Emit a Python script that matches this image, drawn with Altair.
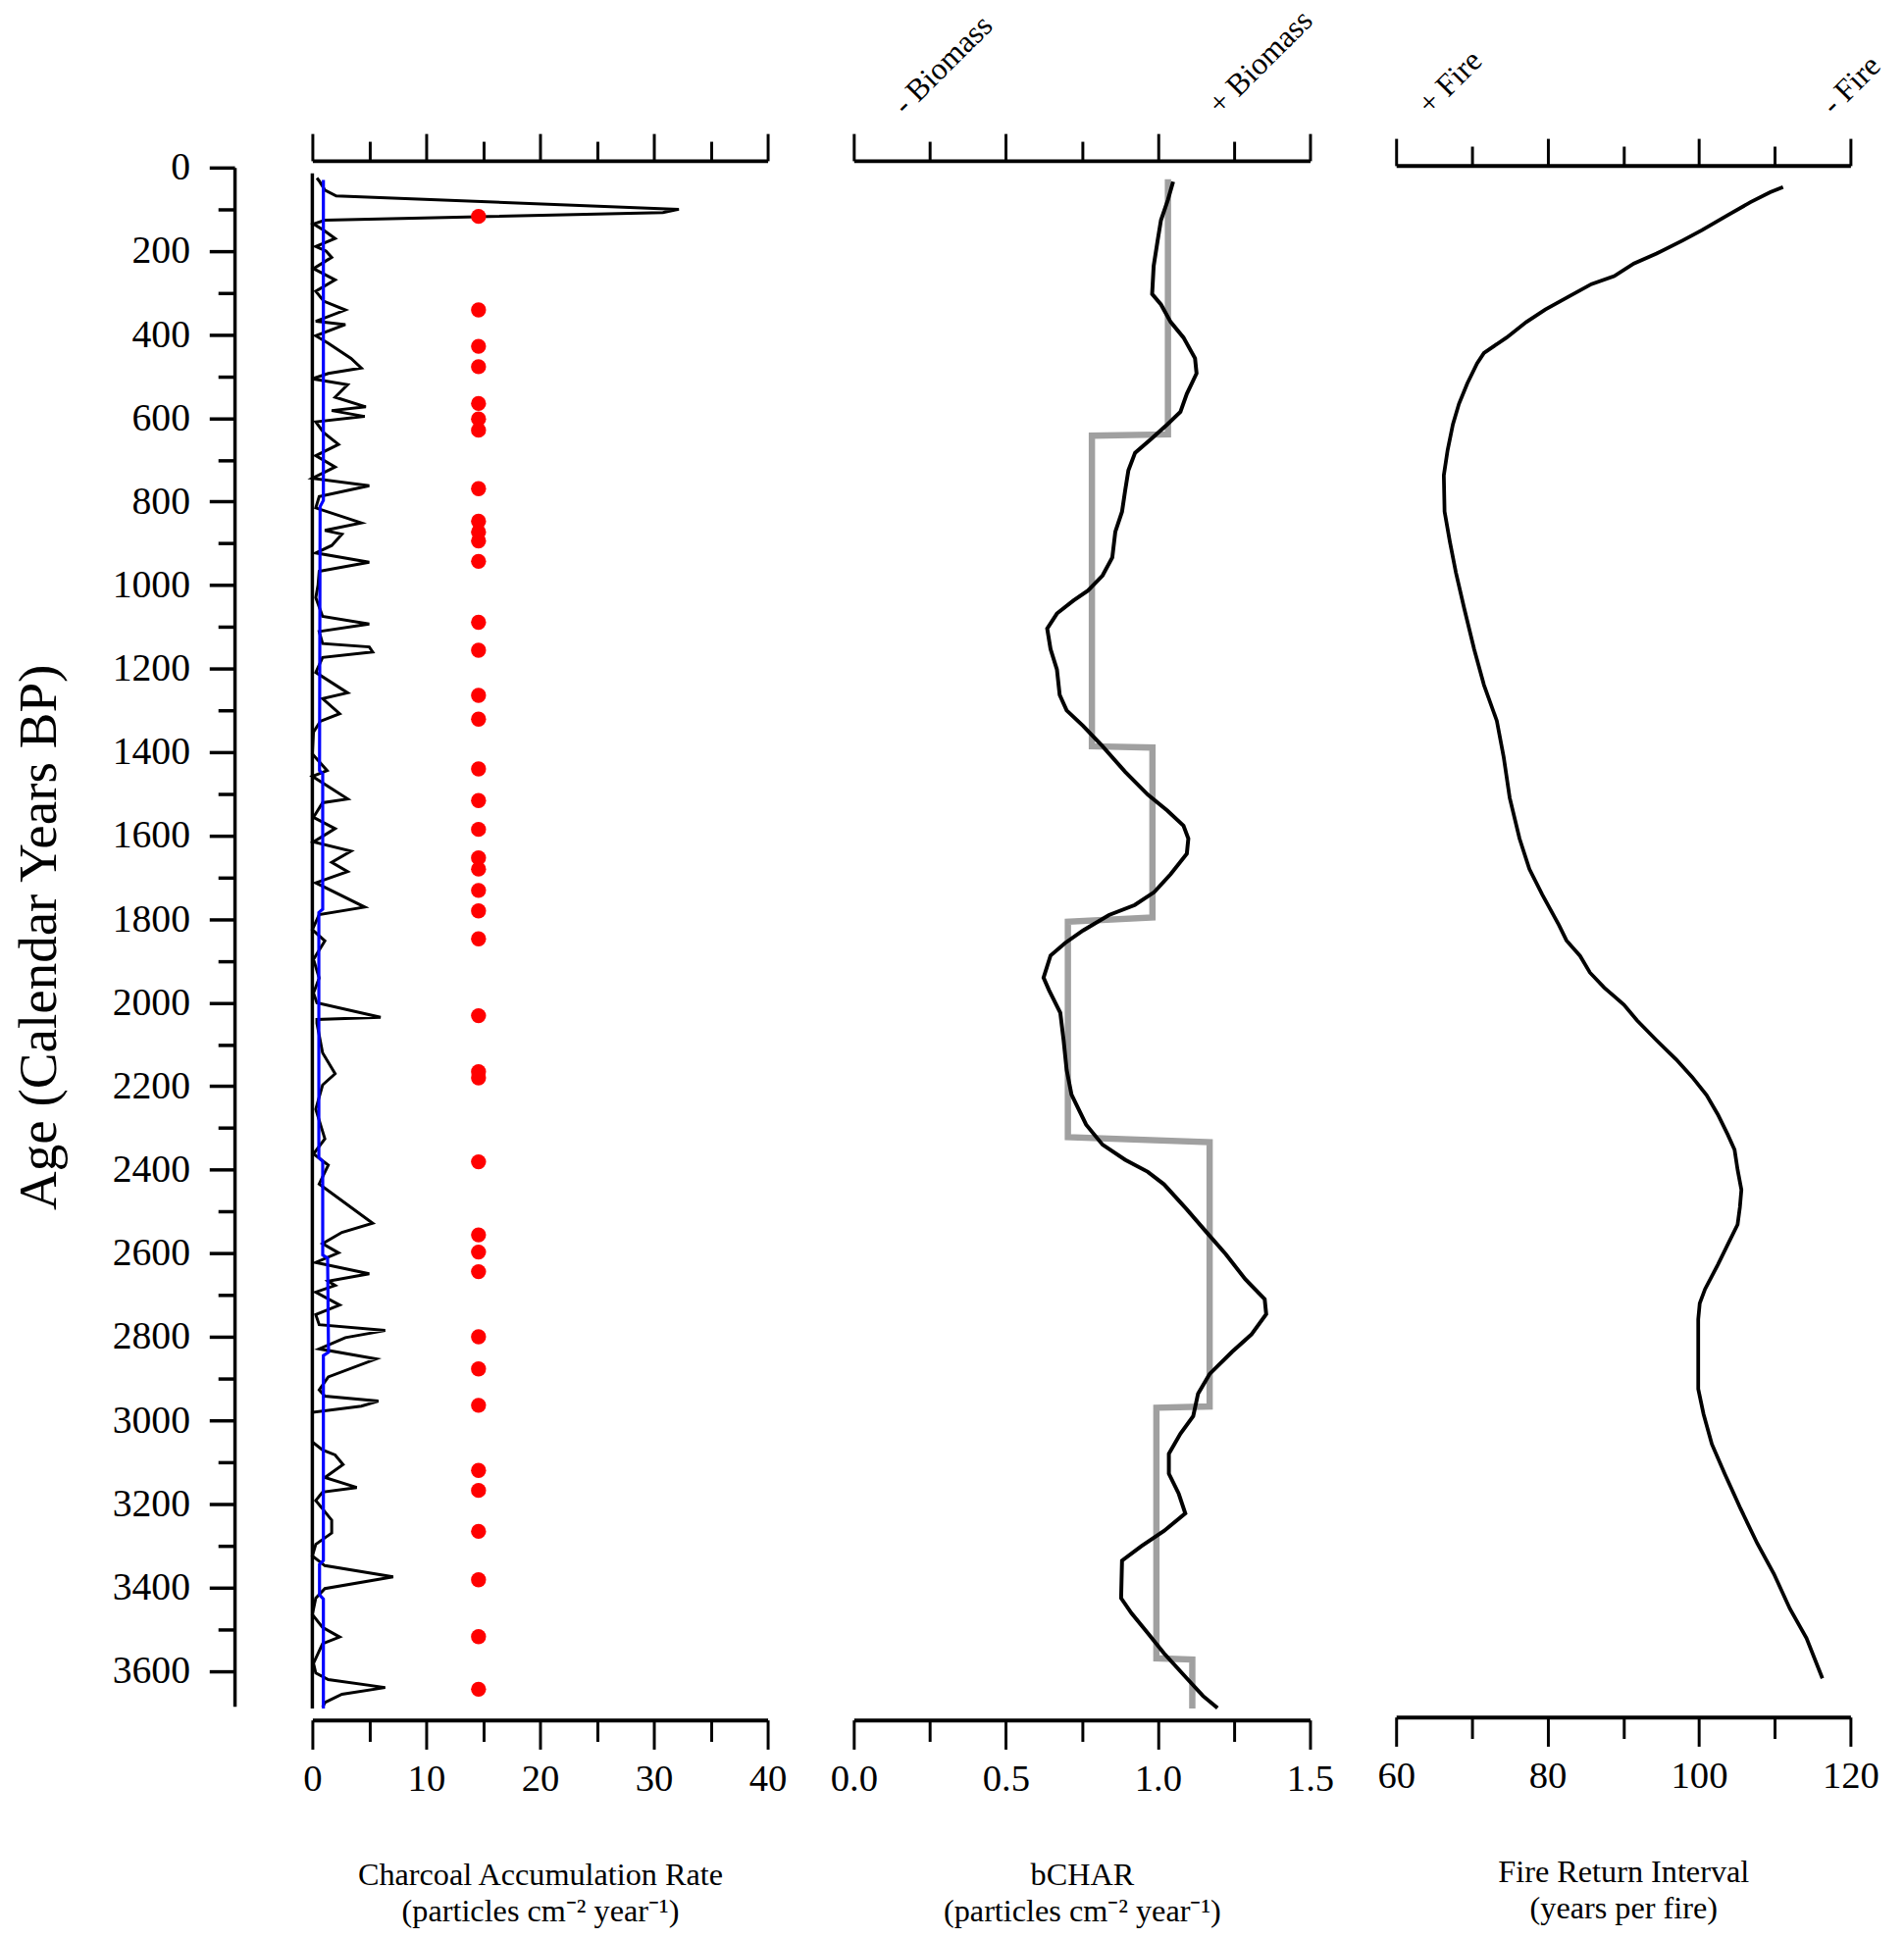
import altair as alt
import pandas as pd

FONT = "Liberation Serif"

# ---------------- Panel 1: charcoal accumulation rate ----------------
char_age = [25, 32, 54, 68, 100, 108, 126, 135, 150, 170, 189, 200, 215, 242, 269, 296, 320, 341, 368, 376,
            403, 421, 457, 480, 493, 506, 520, 550, 573, 582, 596, 609, 635, 663, 690, 717, 744, 762, 788, 815,
            851, 869, 878, 905, 923, 945, 967, 1000, 1030, 1075, 1093, 1111, 1140, 1148, 1160, 1173, 1209, 1258,
            1272, 1308, 1326, 1352, 1404, 1444, 1458, 1512, 1521, 1556, 1583, 1615, 1637, 1664, 1686, 1713,
            1771, 1789, 1825, 1852, 1896, 1941, 1977, 2000, 2035, 2040, 2049, 2120, 2170, 2197, 2255, 2326,
            2362, 2389, 2434, 2528, 2550, 2577, 2599, 2622, 2649, 2667, 2677, 2693, 2724, 2747, 2771, 2785,
            2802, 2829, 2853, 2896, 2927, 2942, 2954, 2966, 2981, 3052, 3071, 3083, 3106, 3137, 3161, 3172,
            3192, 3239, 3270, 3297, 3325, 3348, 3375, 3403, 3426, 3465, 3496, 3519, 3535, 3582, 3605, 3621,
            3640, 3656, 3676, 3687]
char_val = [0.4, 0.6, 1.1, 2.1, 32.2, 30.8, 1.1, 0.1, 1.0, 2.0, 0.3, 1.2, 1.7, 0.1, 2.0, 0.3, 1.0, 2.9, 0.3, 2.9,
            0.3, 1.4, 3.4, 4.3, 1.4, 0.0, 3.1, 2.0, 4.7, 1.7, 4.6, 0.3, 1.0, 2.3, 0.3, 2.0, 0.0, 5.0, 0.6, 0.3,
            4.3, 1.1, 2.6, 1.7, 0.3, 5.0, 0.6, 0.5, 0.3, 0.9, 5.0, 0.6, 0.9, 5.0, 5.3, 0.9, 0.3, 3.1,
            0.9, 2.4, 0.7, 0.1, 0.0, 1.3, 0.0, 3.1, 0.9, 0.1, 2.0, 0.1, 3.4, 1.7, 3.1, 0.3,
            4.6, 0.6, 0.0, 1.1, 0.1, 0.6, 0.1, 0.4, 6.0, 0.4, 0.4, 0.9, 2.0, 0.9, 0.3, 1.1,
            0.1, 1.4, 0.6, 5.3, 2.6, 0.9, 2.3, 0.3, 5.0, 1.4, 2.0, 0.3, 2.4, 0.3, 0.6, 6.4,
            2.9, 0.6, 5.6, 1.4, 0.6, 1.1, 5.8, 4.3, 0.0, 0.0, 0.9, 2.0, 2.7, 1.1, 3.9, 0.9,
            0.3, 1.7, 1.7, 0.3, 0.0, 1.1, 7.1, 1.1, 0.3, 0.0, 0.9, 2.4, 0.9, 0.1, 0.3, 1.4,
            6.4, 2.6, 1.1, 0.9]

bg_age = [30, 797, 812, 1444, 1452, 1776, 1784, 2371, 2380, 2604, 2612, 2837, 2845, 3336, 3345, 3418, 3428, 3690]
bg_val = [0.97, 0.97, 0.68, 0.63, 0.91, 0.91, 0.57, 0.57, 0.91, 0.91, 1.34, 1.42, 0.97, 0.97, 0.63, 0.63, 0.97, 0.97]

peak_age = [117, 341, 428, 477, 565, 602, 629, 769, 847, 873, 894, 943, 1089, 1156, 1264, 1321, 1440, 1516,
            1585, 1653, 1680, 1731, 1780, 1847, 2031, 2165, 2180, 2381, 2556, 2597, 2644, 2800, 2877, 2964,
            3120, 3168, 3266, 3382, 3518, 3644]
peak_x = 14.6

base_x = [0]
base_top = [14]
base_bottom = [3690]

# ---------------- Panel 2: bCHAR ----------------
bchar_age = [34, 77, 126, 175, 236, 303, 328, 370, 407, 457, 493, 542, 585, 615, 650, 683, 725, 775, 824, 872,
             934, 977, 1013, 1037, 1068, 1104, 1153, 1202, 1263, 1300, 1337, 1386, 1447, 1502, 1540, 1576, 1607,
             1643, 1692, 1735, 1766, 1790, 1827, 1857, 1887, 1940, 1970, 2024, 2090, 2161, 2220, 2292, 2340,
             2376, 2405, 2435, 2495, 2549, 2602, 2662, 2710, 2746, 2794, 2836, 2889, 2936, 2990, 3032, 3080,
             3128, 3175, 3223, 3265, 3301, 3336, 3426, 3462, 3510, 3558, 3618, 3660, 3689]
bchar_val = [1.050, 1.033, 1.010, 0.999, 0.986, 0.981, 1.010, 1.042, 1.084, 1.122, 1.127, 1.095, 1.074, 1.031,
             0.978, 0.925, 0.903, 0.892, 0.882, 0.860, 0.850, 0.818, 0.770, 0.722, 0.668, 0.636, 0.647, 0.668,
             0.677, 0.700, 0.754, 0.818, 0.892, 0.967, 1.031, 1.084, 1.100, 1.095, 1.042, 0.988, 0.924, 0.839,
             0.754, 0.695, 0.647, 0.624, 0.642, 0.679, 0.690, 0.700, 0.716, 0.764, 0.818, 0.892, 0.967, 1.020,
             1.095, 1.159, 1.223, 1.287, 1.351, 1.356, 1.308, 1.244, 1.170, 1.132, 1.116, 1.074, 1.036, 1.036,
             1.068, 1.090, 1.020, 0.946, 0.882, 0.879, 0.913, 0.967, 1.020, 1.095, 1.148, 1.196]

zone_age = [28, 639, 642, 1386, 1389, 1796, 1806, 2322, 2334, 2967, 2970, 3570, 3573, 3690]
zone_val = [1.033, 1.033, 0.783, 0.783, 0.982, 0.982, 0.704, 0.704, 1.17, 1.17, 0.995, 0.995, 1.113, 1.113]

bio_label = ["- Biomass", "+ Biomass"]
bio_x = [0.17, 1.206]

# ---------------- Panel 3: fire return interval ----------------
fri_age = [47, 59, 83, 114, 150, 175, 206, 230, 260, 279, 309, 340, 370, 407, 444, 469, 517, 566, 615, 677,
           737, 824, 896, 970, 1056, 1153, 1239, 1325, 1411, 1509, 1607, 1680, 1741, 1814, 1851, 1888, 1928,
           1964, 2005, 2042, 2090, 2136, 2178, 2221, 2268, 2316, 2352, 2400, 2448, 2490, 2531, 2579, 2627,
           2686, 2720, 2758, 2925, 2985, 3057, 3128, 3212, 3295, 3368, 3451, 3522, 3618]
fri_val = [111.1, 109.4, 106.8, 103.8, 100.4, 97.8, 94.4, 91.4, 88.8, 85.8, 82.8, 79.7, 77.2, 74.6, 71.6, 70.7,
           69.4, 68.3, 67.5, 66.8, 66.3, 66.4, 67.1, 67.9, 69.0, 70.3, 71.6, 73.3, 74.2, 75.0, 76.3, 77.6, 79.3,
           81.5, 82.5, 84.3, 85.6, 87.5, 90.1, 91.8, 94.4, 97.0, 99.1, 101.0, 102.5, 103.8, 104.7, 105.1, 105.6,
           105.4, 105.1, 103.8, 102.5, 100.8, 100.1, 99.9, 99.9, 100.6, 101.7, 103.4, 105.5, 107.7, 109.9,
           112.0, 114.2, 116.3]

fire_label = ["+ Fire", "- Fire"]
fire_x = [64.5, 117.8]

age_ticks = list(range(0, 3700, 100))
char_ticks = list(range(0, 45, 5))
bchar_ticks = [0, 0.25, 0.5, 0.75, 1.0, 1.25, 1.5]
fri_ticks = list(range(60, 130, 10))

# ---------------- layout constants ----------------
Y_DOMAIN = [0, 3685]
H = 1582
W1, W2, W3 = 468, 469, 467
SPACING = 88.5
TEXT_Y = -53


def cond(test, major, minor):
    return {"condition": {"test": test, "value": major}, "value": minor}


def top_axis(vals, test, offset):
    return alt.Axis(orient="top", values=vals, offset=offset, labels=False, title=None,
                    domainWidth=4, domainColor="black", tickColor="black", tickWidth=3,
                    tickSize=cond(test, 28, 20), grid=False)


def bottom_axis(vals, test, fmt, title, offset):
    return alt.Axis(orient="bottom", values=vals, offset=offset, format=fmt,
                    labelExpr="(" + test + ") ? datum.label : ''",
                    labelFont=FONT, labelFontSize=39, labelColor="black", labelPadding=11,
                    labelFlush=False, labelOverlap=False,
                    domainWidth=4, domainColor="black", tickColor="black", tickWidth=3,
                    tickSize=cond(test, 30, 22), grid=False,
                    title=title, titleFont=FONT, titleFontSize=32.5, titleFontWeight="normal",
                    titleColor="black", titlePadding=63, titleLineHeight=38)


y_scale = alt.Scale(domain=Y_DOMAIN, reverse=True, nice=False, zero=False)
y_axis = alt.Axis(orient="left", offset=80, values=age_ticks, format="d",
                  labelExpr="datum.value % 200 === 0 ? datum.label : ''",
                  labelFont=FONT, labelFontSize=40, labelColor="black", labelPadding=20,
                  labelOverlap=False, labelFlush=False,
                  domainWidth=3.5, domainColor="black", tickColor="black", tickWidth=3.5,
                  tickSize=cond("datum.value % 200 === 0", 26, 17), grid=False,
                  title="Age (Calendar Years BP)", titleFont=FONT, titleFontSize=55.5,
                  titleFontWeight="normal", titleColor="black", titlePadding=46)

# ---------------- data frames ----------------
df_char = pd.DataFrame({"age": char_age, "val": char_val})
df_bg = pd.DataFrame({"age": bg_age, "val": bg_val})
df_peak = pd.DataFrame({"age": peak_age, "x": [peak_x] * len(peak_age)})
df_base = pd.DataFrame({"x": base_x, "y0": base_top, "y1": base_bottom})
df_bchar = pd.DataFrame({"age": bchar_age, "val": bchar_val})
df_zone = pd.DataFrame({"age": zone_age, "val": zone_val})
df_bio = pd.DataFrame({"x": bio_x, "label": bio_label})
df_fri = pd.DataFrame({"age": fri_age, "val": fri_val})
df_fire = pd.DataFrame({"x": fire_x, "label": fire_label})

# ---------------- Panel 1 ----------------
xs1 = alt.Scale(domain=[0, 40], nice=False, zero=False)
t1 = "datum.value % 10 === 0"

p1_rule = alt.Chart(df_base).mark_rule(color="black", strokeWidth=3.5).encode(
    x=alt.X("x:Q", scale=xs1, axis=top_axis(char_ticks, t1, 7)),
    y=alt.Y("y0:Q", scale=y_scale, axis=y_axis),
    y2="y1:Q",
)
p1_char = alt.Chart(df_char).mark_line(color="black", strokeWidth=3).encode(
    x=alt.X("val:Q", scale=xs1,
            axis=bottom_axis(char_ticks, t1, "d",
                             ["Charcoal Accumulation Rate", "(particles cm\u207b\u00b2 year\u207b\u00b9)"], 14)),
    y=alt.Y("age:Q", scale=y_scale, axis=y_axis),
    order="age:Q",
)
p1_bg = alt.Chart(df_bg).mark_line(color="#0000ff", strokeWidth=3.2).encode(
    x=alt.X("val:Q", scale=xs1, axis=None),
    y=alt.Y("age:Q", scale=y_scale, axis=y_axis),
    order="age:Q",
)
p1_dots = alt.Chart(df_peak).mark_circle(color="#ff0000", size=240, opacity=1).encode(
    x=alt.X("x:Q", scale=xs1, axis=None),
    y=alt.Y("age:Q", scale=y_scale, axis=y_axis),
)
panel1 = alt.layer(p1_rule, p1_char, p1_bg, p1_dots).resolve_axis(x="independent").properties(
    width=W1, height=H)

# ---------------- Panel 2 ----------------
xs2 = alt.Scale(domain=[0, 1.5], nice=False, zero=False)
t2 = "abs(datum.value * 2 - round(datum.value * 2)) < 0.001"

p2_zone = alt.Chart(df_zone).mark_line(color="#a0a0a0", strokeWidth=6.5, strokeJoin="miter").encode(
    x=alt.X("val:Q", scale=xs2, axis=top_axis(bchar_ticks, t2, 7)),
    y=alt.Y("age:Q", scale=y_scale, axis=None),
    order="age:Q",
)
p2_line = alt.Chart(df_bchar).mark_line(color="black", strokeWidth=4).encode(
    x=alt.X("val:Q", scale=xs2,
            axis=bottom_axis(bchar_ticks, t2, ".1f",
                             ["bCHAR", "(particles cm\u207b\u00b2 year\u207b\u00b9)"], 14)),
    y=alt.Y("age:Q", scale=y_scale, axis=None),
    order="age:Q",
)
p2_text = alt.Chart(df_bio).mark_text(font=FONT, fontSize=32, angle=315, align="left",
                                      baseline="alphabetic", color="black").encode(
    x=alt.X("x:Q", scale=xs2, axis=None),
    y=alt.value(TEXT_Y),
    text="label:N",
)
panel2 = alt.layer(p2_zone, p2_line, p2_text).resolve_axis(x="independent").properties(
    width=W2, height=H)

# ---------------- Panel 3 ----------------
xs3 = alt.Scale(domain=[60, 120], nice=False, zero=False)
t3 = "(datum.value - 60) % 20 === 0"

p3_line = alt.Chart(df_fri).mark_line(color="black", strokeWidth=3.8).encode(
    x=alt.X("val:Q", scale=xs3,
            axis=bottom_axis(fri_ticks, t3, "d", ["Fire Return Interval", "(years per fire)"], 11)),
    y=alt.Y("age:Q", scale=y_scale, axis=None),
    order="age:Q",
)
p3_text = alt.Chart(df_fire).mark_text(font=FONT, fontSize=32, angle=315, align="left",
                                       baseline="alphabetic", color="black").encode(
    x=alt.X("x:Q", scale=xs3, axis=top_axis(fri_ticks, t3, 2)),
    y=alt.value(TEXT_Y),
    text="label:N",
)
panel3 = alt.layer(p3_line, p3_text).resolve_axis(x="independent").properties(width=W3, height=H)

chart = alt.hconcat(panel1, panel2, panel3, spacing=SPACING, bounds="flush").properties(
    padding={"left": 5, "top": -12, "right": 10, "bottom": 5},
    background="white",
).configure_view(stroke=None)

chart.save("out.html", embed_options={"renderer": "svg", "actions": False})
